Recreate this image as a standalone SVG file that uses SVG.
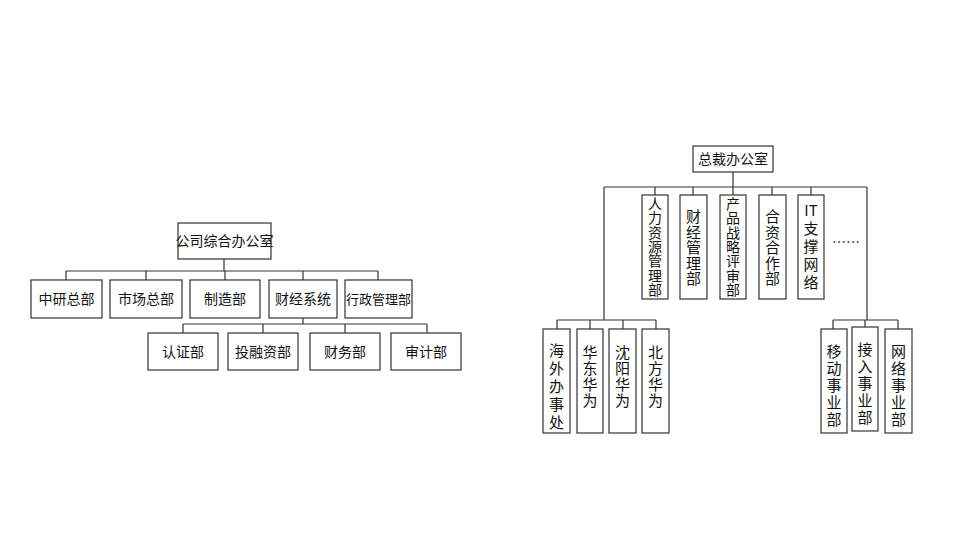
<svg xmlns="http://www.w3.org/2000/svg" width="965" height="545" viewBox="0 0 965 545">
<style>
rect{fill:#fff;stroke:#333;stroke-width:1.2}
#connectors path{fill:none;stroke:#333;stroke-width:1.2}
text{font-family:"Noto Sans CJK SC","Liberation Sans",sans-serif;font-size:14px;fill:#111;text-anchor:middle}
.v{font-size:15px}
.s{font-size:14px}
</style>
<rect width="965" height="545" style="fill:#fff;stroke:none"/>
<g id="connectors">
<path d="M224 259V271M66 271H378M66 271V280M146 271V280M225 271V280M303 271V280M378 271V280"/>
<path d="M303 318V324M183 324H427M183 324V333M263 324V333M345 324V333M427 324V333"/>
<path d="M733 172V187M604 187H867M655 187V195M693 187V195M733 187V195M772 187V195M811 187V195"/>
<path d="M604 187V320M557 320H656M557 320V329M590 320V329M623 320V329M656 320V329"/>
<path d="M867 187V320M833 320H898M833 320V329M865 320V327M898 320V329"/>
</g>
<g id="n0"><rect x="178" y="223" width="93" height="36"/><text x="224.5" y="246">公司综合办公室</text></g>
<g id="n1"><rect x="31" y="280" width="71" height="38"/><text x="66.5" y="304">中研总部</text></g>
<g id="n2"><rect x="110" y="280" width="72" height="38"/><text x="146" y="304">市场总部</text></g>
<g id="n3"><rect x="190" y="280" width="70" height="38"/><text x="225" y="304">制造部</text></g>
<g id="n4"><rect x="269" y="280" width="68" height="38"/><text x="303" y="304">财经系统</text></g>
<g id="n5"><rect x="345" y="280" width="67" height="38"/><text x="378.5" y="304" style="font-size:13px">行政管理部</text></g>
<g id="n6"><rect x="148" y="333" width="70" height="37"/><text x="183" y="357">认证部</text></g>
<g id="n7"><rect x="228" y="333" width="70" height="37"/><text x="263" y="357">投融资部</text></g>
<g id="n8"><rect x="310" y="333" width="70" height="37"/><text x="345" y="357">财务部</text></g>
<g id="n9"><rect x="391" y="333" width="70" height="37"/><text x="426" y="357">审计部</text></g>
<g id="r0"><rect x="693" y="146" width="80" height="26"/><text x="733" y="164">总裁办公室</text></g>
<g id="r1"><rect x="642" y="195" width="26" height="104"/><text class="s" x="655" y="209"><tspan x="655">人</tspan><tspan x="655" dy="14.3">力</tspan><tspan x="655" dy="14.3">资</tspan><tspan x="655" dy="14.3">源</tspan><tspan x="655" dy="14.3">管</tspan><tspan x="655" dy="14.3">理</tspan><tspan x="655" dy="14.3">部</tspan></text></g>
<g id="r2"><rect x="680" y="195" width="27" height="104"/><text class="v" x="693" y="222"><tspan x="693.5">财</tspan><tspan x="693.5" dy="15.5">经</tspan><tspan x="693.5" dy="15.5">管</tspan><tspan x="693.5" dy="15.5">理</tspan><tspan x="693.5" dy="15.5">部</tspan></text></g>
<g id="r3"><rect x="720" y="195" width="26" height="104"/><text class="s" x="733" y="209"><tspan x="733">产</tspan><tspan x="733" dy="14.3">品</tspan><tspan x="733" dy="14.3">战</tspan><tspan x="733" dy="14.3">略</tspan><tspan x="733" dy="14.3">评</tspan><tspan x="733" dy="14.3">审</tspan><tspan x="733" dy="14.3">部</tspan></text></g>
<g id="r4"><rect x="759" y="195" width="27" height="104"/><text class="v" x="772" y="222"><tspan x="772.5">合</tspan><tspan x="772.5" dy="15.5">资</tspan><tspan x="772.5" dy="15.5">合</tspan><tspan x="772.5" dy="15.5">作</tspan><tspan x="772.5" dy="15.5">部</tspan></text></g>
<g id="r5"><rect x="798" y="195" width="26" height="104"/><text class="v" x="811" y="216"><tspan x="811">IT</tspan><tspan x="811" dy="18">支</tspan><tspan x="811" dy="18">撑</tspan><tspan x="811" dy="18">网</tspan><tspan x="811" dy="18">络</tspan></text></g>
<g id="dots"><text x="846" y="247">……</text></g>
<g id="s1"><rect x="543" y="329" width="27" height="104"/><text class="v" x="556.5" y="356"><tspan x="556.5">海</tspan><tspan x="556.5" dy="18">外</tspan><tspan x="556.5" dy="18">办</tspan><tspan x="556.5" dy="18">事</tspan><tspan x="556.5" dy="18">处</tspan></text></g>
<g id="s2"><rect x="577" y="329" width="26" height="104"/><text class="v" x="590" y="358"><tspan x="590">华</tspan><tspan x="590" dy="16">东</tspan><tspan x="590" dy="16">华</tspan><tspan x="590" dy="16">为</tspan></text></g>
<g id="s3"><rect x="609" y="329" width="27" height="104"/><text class="v" x="622.5" y="358"><tspan x="622.5">沈</tspan><tspan x="622.5" dy="16">阳</tspan><tspan x="622.5" dy="16">华</tspan><tspan x="622.5" dy="16">为</tspan></text></g>
<g id="s4"><rect x="642" y="329" width="27" height="104"/><text class="v" x="655.5" y="358"><tspan x="655.5">北</tspan><tspan x="655.5" dy="16">方</tspan><tspan x="655.5" dy="16">华</tspan><tspan x="655.5" dy="16">为</tspan></text></g>
<g id="t1"><rect x="821" y="329" width="26" height="104"/><text class="v" x="834" y="357"><tspan x="834">移</tspan><tspan x="834" dy="17">动</tspan><tspan x="834" dy="17">事</tspan><tspan x="834" dy="17">业</tspan><tspan x="834" dy="17">部</tspan></text></g>
<g id="t2"><rect x="852" y="327" width="26" height="104"/><text class="v" x="865" y="355"><tspan x="865">接</tspan><tspan x="865" dy="17">入</tspan><tspan x="865" dy="17">事</tspan><tspan x="865" dy="17">业</tspan><tspan x="865" dy="17">部</tspan></text></g>
<g id="t3"><rect x="885" y="329" width="27" height="104"/><text class="v" x="898.5" y="357"><tspan x="898.5">网</tspan><tspan x="898.5" dy="17">络</tspan><tspan x="898.5" dy="17">事</tspan><tspan x="898.5" dy="17">业</tspan><tspan x="898.5" dy="17">部</tspan></text></g>
</svg>
